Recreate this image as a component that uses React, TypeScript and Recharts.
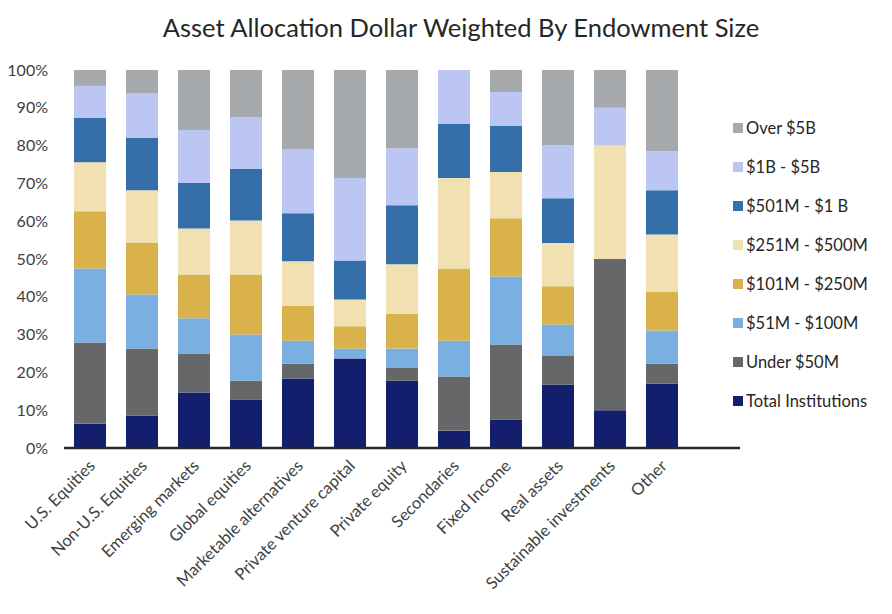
import { BarChart, Bar, XAxis, YAxis, Legend } from 'recharts'

const categories = [
  'U.S. Equities',
  'Non-U.S. Equities',
  'Emerging markets',
  'Global equities',
  'Marketable alternatives',
  'Private venture capital',
  'Private equity',
  'Secondaries',
  'Fixed Income',
  'Real assets',
  'Sustainable investments',
  'Other',
]

// percent share per endowment size bucket, one value per category
const totalInstitutions = [6.4, 8.6, 14.7, 12.8, 18.4, 23.7, 17.8, 4.6, 7.5, 16.8, 10, 17.0]
const under50M = [21.5, 17.7, 10.3, 5.0, 3.9, 0, 3.5, 14.3, 19.9, 7.7, 40, 5.3]
const m51to100 = [19.6, 14.3, 9.3, 12.2, 6.1, 2.6, 5.0, 9.5, 18.0, 8.2, 0, 8.8]
const m101to250 = [15.1, 13.6, 11.6, 15.9, 9.3, 5.9, 9.3, 19.1, 15.4, 10.1, 0, 10.3]
const m251to500 = [13.0, 14.0, 12.2, 14.3, 11.7, 7.1, 13.0, 23.9, 12.2, 11.4, 30, 15.1]
const m501to1B = [11.7, 13.8, 12.0, 13.6, 12.7, 10.3, 15.6, 14.3, 12.2, 11.9, 0, 11.7]
const b1to5 = [8.5, 11.9, 14.0, 13.7, 17.0, 21.8, 15.1, 14.3, 9.0, 14.0, 10, 10.3]
const over5B = [4.2, 6.1, 15.9, 12.5, 20.9, 28.6, 20.7, 0, 5.8, 19.9, 10, 21.5]

const yTicks = [0, 0.1, 0.2, 0.3, 0.4, 0.5, 0.6, 0.7, 0.8, 0.9, 1]

const SERIES = [
  { key: 'total', name: 'Total Institutions', values: totalInstitutions, color: '#131f6c' },
  { key: 'under50', name: 'Under $50M', values: under50M, color: '#666769' },
  { key: 'm51', name: '$51M - $100M', values: m51to100, color: '#7aafe2' },
  { key: 'm101', name: '$101M - $250M', values: m101to250, color: '#d9b24b' },
  { key: 'm251', name: '$251M - $500M', values: m251to500, color: '#f1e1b2' },
  { key: 'm501', name: '$501M - $1 B', values: m501to1B, color: '#356faa' },
  { key: 'b1', name: '$1B - $5B', values: b1to5, color: '#bcc6f3' },
  { key: 'over5', name: 'Over $5B', values: over5B, color: '#a5a9ac' },
]

const FONT = 'Lato, "Open Sans", sans-serif'

const data = categories.map((name, i) => {
  const row: Record<string, string | number> = { name }
  SERIES.forEach((s) => {
    row[s.key] = s.values[i]
  })
  return row
})

function XTick(props: any) {
  const { x, y, payload } = props
  return (
    <g transform={`translate(${x + 6},${y + 17})`}>
      <text
        textAnchor="end"
        transform="rotate(-45)"
        fill="#404040"
        fontSize={16.5}
        fontFamily={FONT}
      >
        {payload.value}
      </text>
    </g>
  )
}

function LegendList() {
  const items = [...SERIES].reverse()
  return (
    <div style={{ fontFamily: FONT, fontSize: 16.5, color: '#262626' }}>
      {items.map((s) => (
        <div key={s.key} style={{ display: 'flex', alignItems: 'center', height: 39 }}>
          <span style={{ width: 10, height: 10, background: s.color, marginRight: 3 }} />
          <span>{s.name}</span>
        </div>
      ))}
    </div>
  )
}

export default function App() {
  return (
    <div style={{ position: 'absolute', left: 0, top: 0, width: 892, height: 614, background: '#fff' }}>
      <div
        style={{
          position: 'absolute',
          left: 0,
          top: 12,
          width: 922,
          textAlign: 'center',
          fontFamily: FONT,
          fontSize: 25.5,
          color: '#262626',
        }}
      >
        Asset Allocation Dollar Weighted By Endowment Size
      </div>
      <BarChart
        width={892}
        height={614}
        data={data}
        stackOffset="expand"
        barSize={32}
        margin={{ top: 70, right: 152, bottom: 0, left: 0 }}
      >
        <XAxis
          dataKey="name"
          interval={0}
          padding={{ left: 0, right: 52 }}
          tickLine={false}
          tickSize={0}
          axisLine={{ stroke: '#262626', strokeWidth: 2.5 }}
          tick={<XTick />}
          height={166}
        />
        <YAxis
          width={64}
          domain={[0, 1]}
          ticks={yTicks}
          interval={0}
          tickFormatter={(v: number) => `${Math.round(v * 100)}%`}
          axisLine={false}
          tickLine={false}
          tickSize={0}
          tickMargin={16}
          tick={{ fill: '#404040', fontSize: 16, fontFamily: FONT }}
        />
        <Legend
          layout="vertical"
          align="center"
          verticalAlign="middle"
          content={() => <LegendList />}
          wrapperStyle={{ left: 733, top: 108, width: 159 }}
        />
        {SERIES.map((s) => (
          <Bar key={s.key} dataKey={s.key} name={s.name} stackId="a" fill={s.color} isAnimationActive={false} />
        ))}
      </BarChart>
    </div>
  )
}
